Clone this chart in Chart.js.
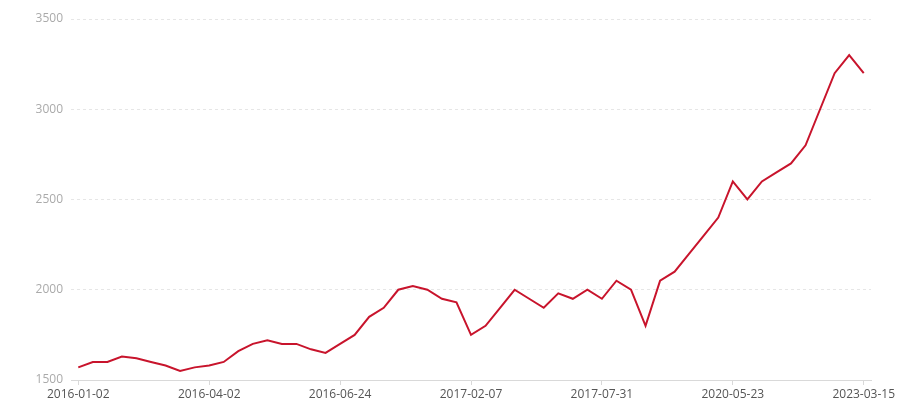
<!DOCTYPE html>
<html>
<head>
<meta charset="utf-8">
<script src="https://cdn.jsdelivr.net/npm/chart.js@4/dist/chart.umd.min.js"></script>
<style>
    html, body { margin: 0; padding: 0; background: #fff; }
    #wrap { width: 900px; height: 400px; }
</style>
</head>
<body>
<div id="wrap"><canvas id="lineChart" width="900" height="400"></canvas></div>
<script>
// only every 9th date is printed on the axis; the others are unknown
const dates = [
    '2016-01-02', '', '', '', '', '', '', '', '',
    '2016-04-02', '', '', '', '', '', '', '', '',
    '2016-06-24', '', '', '', '', '', '', '', '',
    '2017-02-07', '', '', '', '', '', '', '', '',
    '2017-07-31', '', '', '', '', '', '', '', '',
    '2020-05-23', '', '', '', '', '', '', '', '',
    '2023-03-15'
];

const values = [
    1570, 1600, 1600, 1630, 1620, 1600, 1580, 1550, 1570,
    1580, 1600, 1660, 1700, 1720, 1700, 1700, 1670, 1650,
    1700, 1750, 1850, 1900, 2000, 2020, 2000, 1950, 1930,
    1750, 1800, 1900, 2000, 1950, 1900, 1980, 1950, 2000,
    1950, 2050, 2000, 1800, 2050, 2100, 2200, 2300, 2400,
    2600, 2500, 2600, 2650, 2700, 2800, 3000, 3200, 3300,
    3200
];

const yTicks = [1500, 2000, 2500, 3000, 3500];

const fontFamily = '"Open Sans", "Noto Sans", sans-serif';

document.addEventListener('DOMContentLoaded', () => {
    renderChart();
});

function renderChart() {
    const ctx = document.getElementById('lineChart').getContext('2d');

    new Chart(ctx, {
        type: 'line',
        data: {
            labels: dates,
            datasets: [{
                data: values,
                borderColor: '#c8142c',
                borderWidth: 2,
                pointRadius: 0,
                tension: 0,
                fill: false
            }]
        },
        options: {
            responsive: false,
            animation: false,
            layout: {
                padding: { top: 19, right: 29, left: 0, bottom: 0 }
            },
            plugins: {
                legend: { display: false },
                tooltip: { enabled: false }
            },
            scales: {
                x: {
                    offset: true,
                    border: { display: true, color: '#d9d9d9', width: 1 },
                    grid: {
                        drawOnChartArea: false,
                        drawTicks: true,
                        tickLength: 5,
                        tickColor: (c) => dates[c.index] ? '#d9d9d9' : 'rgba(0,0,0,0)'
                    },
                    ticks: {
                        autoSkip: false,
                        maxRotation: 0,
                        padding: 2,
                        color: '#555',
                        font: { family: fontFamily, size: 12 },
                        callback: (v, i) => dates[i]
                    },
                    afterFit: (scale) => { scale.height = 20; }
                },
                y: {
                    min: yTicks[0],
                    max: yTicks[yTicks.length - 1],
                    border: { display: false, dash: [3, 3] },
                    grid: {
                        color: (c) => c.tick.value === yTicks[0] ? 'rgba(0,0,0,0)' : '#e6e6e6',
                        drawTicks: false
                    },
                    afterBuildTicks: (scale) => {
                        scale.ticks = yTicks.map(v => ({ value: v }));
                    },
                    ticks: {
                        padding: 8,
                        color: '#aaa',
                        font: { family: fontFamily, size: 12 },
                        callback: (v) => String(v)
                    },
                    afterFit: (scale) => { scale.width = 71; }
                }
            }
        }
    });
}
</script>
</body>
</html>
